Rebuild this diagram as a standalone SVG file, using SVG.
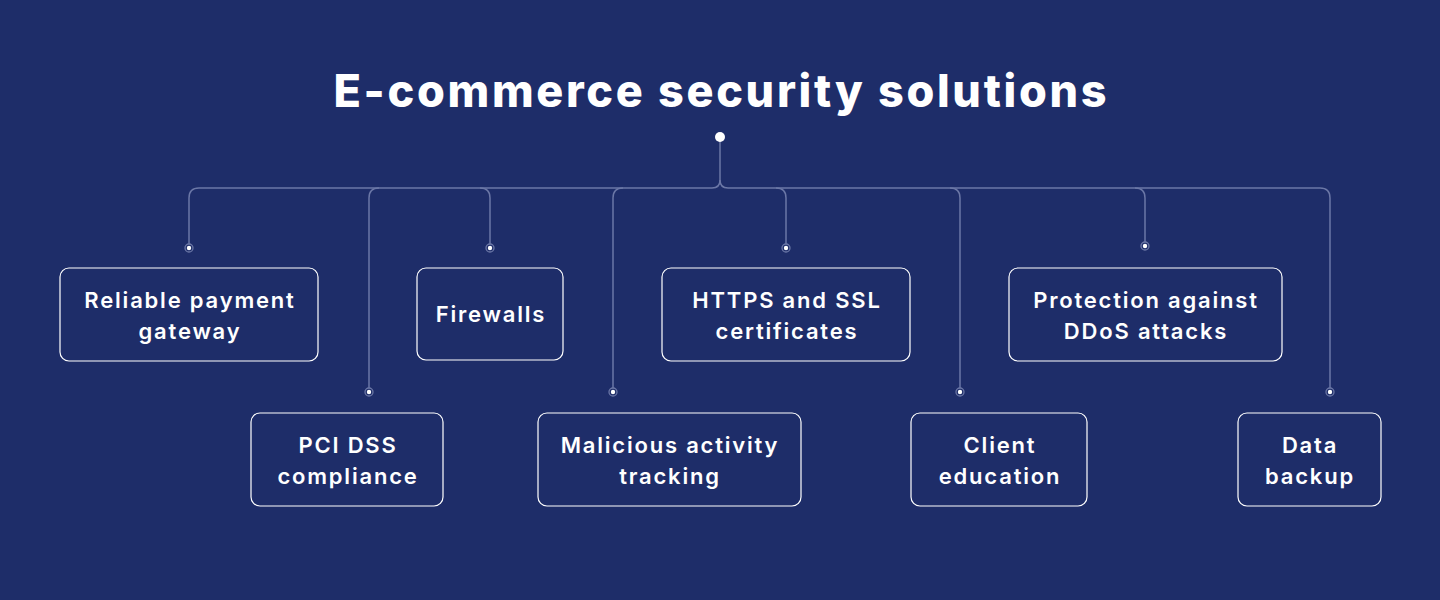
<svg xmlns="http://www.w3.org/2000/svg" width="1440" height="600" viewBox="0 0 1440 600">
<style>
.bg{fill:#1e2d69}
.title{font-family:Inter,"Open Sans","Liberation Sans",sans-serif;font-weight:800;font-size:45px;fill:#ffffff;text-anchor:middle}
.box{fill:#1e2d69;stroke:#ffffff;stroke-width:1.2}
.lbl{font-family:Inter,"Open Sans","Liberation Sans",sans-serif;font-weight:600;font-size:22px;letter-spacing:1.8px;fill:#ffffff;text-anchor:middle}
.ln{fill:none;stroke:#6b77a6;stroke-width:1.5}
.ring{fill:#1e2d69;stroke:#6b77a6;stroke-width:1.3}
.core{fill:#ffffff}
</style>
<rect class="bg" x="0" y="0" width="1440" height="600"/>
<text class="title" x="720" y="107" textLength="773" lengthAdjust="spacing">E-commerce security solutions</text>
<g id="connectors">
<path class="ln" d="M720,137 L720,180"/>
<circle cx="720" cy="137" r="5" fill="#ffffff"/>
<path class="ln" d="M720,180 Q720,188 712,188 L199,188 Q189,188 189,198 L189,244"/>
<path class="ln" d="M379,188 Q369,188 369,198 L369,388"/>
<path class="ln" d="M480,188 Q490,188 490,198 L490,244"/>
<path class="ln" d="M623,188 Q613,188 613,198 L613,388"/>
<path class="ln" d="M720,180 Q720,188 728,188 L1320,188 Q1330,188 1330,198 L1330,388"/>
<path class="ln" d="M776,188 Q786,188 786,198 L786,244"/>
<path class="ln" d="M950,188 Q960,188 960,198 L960,388"/>
<path class="ln" d="M1135,188 Q1145,188 1145,198 L1145,242"/>
<g><circle class="ring" cx="189" cy="248" r="4"/><circle class="core" cx="189" cy="248" r="2.2"/></g>
<g><circle class="ring" cx="369" cy="392" r="4"/><circle class="core" cx="369" cy="392" r="2.2"/></g>
<g><circle class="ring" cx="490" cy="248" r="4"/><circle class="core" cx="490" cy="248" r="2.2"/></g>
<g><circle class="ring" cx="613" cy="392" r="4"/><circle class="core" cx="613" cy="392" r="2.2"/></g>
<g><circle class="ring" cx="786" cy="248" r="4"/><circle class="core" cx="786" cy="248" r="2.2"/></g>
<g><circle class="ring" cx="960" cy="392" r="4"/><circle class="core" cx="960" cy="392" r="2.2"/></g>
<g><circle class="ring" cx="1145" cy="246" r="4"/><circle class="core" cx="1145" cy="246" r="2.2"/></g>
<g><circle class="ring" cx="1330" cy="392" r="4"/><circle class="core" cx="1330" cy="392" r="2.2"/></g>
</g>
<g id="n1"><rect class="box" x="60" y="268" width="258" height="93" rx="9"/><text class="lbl" x="190" y="308">Reliable payment</text><text class="lbl" x="190" y="339">gateway</text></g>
<g id="n2"><rect class="box" x="251" y="413" width="192" height="93" rx="9"/><text class="lbl" x="348" y="453">PCI DSS</text><text class="lbl" x="348" y="484">compliance</text></g>
<g id="n3"><rect class="box" x="417" y="268" width="146" height="92" rx="9"/><text class="lbl" x="491" y="322">Firewalls</text></g>
<g id="n4"><rect class="box" x="538" y="413" width="263" height="93" rx="9"/><text class="lbl" x="670" y="453">Malicious activity</text><text class="lbl" x="670" y="484">tracking</text></g>
<g id="n5"><rect class="box" x="662" y="268" width="248" height="93" rx="9"/><text class="lbl" x="787" y="308">HTTPS and SSL</text><text class="lbl" x="787" y="339">certificates</text></g>
<g id="n6"><rect class="box" x="911" y="413" width="176" height="93" rx="9"/><text class="lbl" x="1000" y="453">Client</text><text class="lbl" x="1000" y="484">education</text></g>
<g id="n7"><rect class="box" x="1009" y="268" width="273" height="93" rx="9"/><text class="lbl" x="1146" y="308">Protection against</text><text class="lbl" x="1146" y="339">DDoS attacks</text></g>
<g id="n8"><rect class="box" x="1238" y="413" width="143" height="93" rx="9"/><text class="lbl" x="1310" y="453">Data</text><text class="lbl" x="1310" y="484">backup</text></g>
</svg>
